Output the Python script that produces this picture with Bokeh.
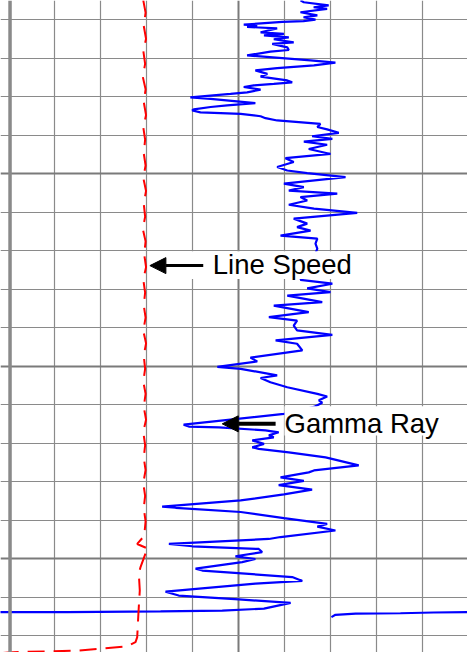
from bokeh.plotting import figure
from bokeh.models import Range1d, Grid, FixedTicker, Span, BoxAnnotation, Arrow, NormalHead, Label
from bokeh.embed import file_html
from bokeh.resources import INLINE

# ---- Gamma Ray (API) vs depth (ft) ----
gr_api = [95.2, 96.3, 104.4, 99.5, 103.9, 95.2, 100.7, 96.2, 100.1, 96.2,
          89.3, 76.7, 81.1, 77.8, 87.6, 82.2, 89.8, 83.3, 91.4, 86.5,
          93.0, 86.0, 90.9, 91.4, 85.4, 77.8, 98.5, 106.6, 99.6, 87.6,
          80.5, 84.4, 82.2, 90.9, 92.5, 86.5, 80.0, 76.7, 82.2, 77.8,
          72.4, 59.3, 65.9, 80.5, 71.3, 65.9, 60.4, 59.9, 62.6, 75.7,
          82.2, 83.8, 87.6, 101.7, 100.7, 103.9, 107.7, 99.0, 105.6, 96.3,
          103.9, 97.9, 105.0, 90.3, 93.0, 87.6, 90.9, 97.4, 109.9, 89.8,
          96.3, 91.4, 107.2, 95.2, 97.4, 91.4, 99.6, 113.7, 93.0, 97.4,
          94.1, 98.5, 88.7, 100.7, 100.1, 100.7, 98.5, 95.2, 105.6, 97.4,
          105.0, 90.9, 102.3, 86.5, 97.9, 84.9, 94.1, 93.0, 94.1, 105.6,
          87.1, 94.1, 95.8, 78.9, 81.1, 68.1, 75.7, 87.6, 82.2, 85.4,
          90.9, 100.7, 103.9, 101.2, 102.3, 99.6, 95.2, 89.8, 57.1, 58.8,
          68.6, 83.8, 88.1, 84.9, 86.5, 79.5, 83.3, 79.5, 81.6, 91.4,
          103.4, 114.2, 99.6, 97.9, 88.7, 96.3, 88.1, 99.0, 89.8, 75.7,
          50.1, 54.5, 75.7, 89.8, 103.9, 100.7, 106.6, 88.7, 84.9, 52.3,
          59.9, 81.6, 82.7, 74.0, 80.5, 76.2, 61.0, 63.2, 92.5, 95.8,
          80.5, 51.2, 55.5, 75.1, 92.0, 83.3, 69.7, 49.6, 19.2, -5.0]
gr_depth = [1004.9, 1005.4, 1006.2, 1006.7, 1007.1, 1008.0, 1008.8, 1009.3, 1009.9, 1010.3,
            1010.5, 1011.2, 1011.4, 1011.8, 1012.2, 1013.2, 1013.6, 1014.0, 1014.5, 1015.0,
            1015.8, 1016.2, 1017.1, 1017.8, 1018.2, 1019.2, 1020.5, 1021.1, 1021.8, 1022.5,
            1023.1, 1024.0, 1024.7, 1025.7, 1026.2, 1026.6, 1027.0, 1027.4, 1028.1, 1028.8,
            1029.2, 1030.1, 1030.5, 1031.6, 1032.2, 1032.6, 1033.2, 1033.5, 1034.0, 1034.4,
            1035.0, 1035.5, 1036.1, 1037.0, 1037.8, 1038.4, 1039.3, 1040.2, 1040.9, 1041.6,
            1042.4, 1043.5, 1044.8, 1045.9, 1046.9, 1048.2, 1049.1, 1049.8, 1050.8, 1052.5,
            1053.4, 1054.3, 1055.1, 1056.0, 1056.9, 1058.0, 1059.0, 1060.1, 1061.6, 1062.9,
            1063.8, 1064.7, 1066.0, 1066.8, 1068.1, 1069.4, 1073.8, 1077.5, 1078.5, 1079.7,
            1080.7, 1081.6, 1083.3, 1084.2, 1085.9, 1087.2, 1088.1, 1089.4, 1090.6, 1091.8,
            1093.2, 1094.1, 1095.8, 1097.7, 1098.7, 1100.1, 1100.6, 1102.3, 1103.0, 1104.1,
            1105.4, 1107.1, 1107.8, 1108.8, 1109.4, 1110.5, 1111.4, 1112.3, 1115.1, 1115.6,
            1115.8, 1116.6, 1117.1, 1117.9, 1118.4, 1119.2, 1120.1, 1121.0, 1121.4, 1122.3,
            1123.6, 1125.7, 1127.0, 1127.5, 1128.8, 1129.7, 1130.8, 1132.0, 1133.2, 1134.8,
            1136.4, 1136.7, 1137.8, 1139.4, 1140.9, 1141.6, 1142.6, 1144.3, 1144.8, 1146.1,
            1146.7, 1147.4, 1148.2, 1149.3, 1150.0, 1150.8, 1152.5, 1153.0, 1154.7, 1155.7,
            1156.4, 1158.5, 1159.5, 1160.5, 1161.4, 1162.9, 1163.4, 1163.6, 1163.8, 1163.8]

# wrapped (backup) gamma ray segment
gr_wrap_api = [105.3, 106.6, 113.2, 127.8, 138.6, 152.3]
gr_wrap_depth = [1165.1, 1164.5, 1164.2, 1164.1, 1163.9, 1163.8]

# ---- Line speed (ft/min) vs depth (ft) ----
ls_speed = [29.3, 29.8, 29.4, 29.9, 29.3, 29.7, 29.2, 29.8, 29.4, 29.9,
            29.3, 29.7, 29.4, 29.8, 29.3, 29.9, 29.4, 29.7, 29.2, 29.8,
            29.5, 29.9, 29.3, 29.7, 29.4, 29.8, 29.3, 29.9, 29.4, 29.7,
            29.3, 29.8, 29.4, 29.9, 29.3, 29.7, 29.4, 29.8, 29.3, 29.7,
            29.4, 29.8, 29.5, 27.98, 30.5, 29.78, 28.7, 28.33, 28.54, 28.37,
            28.2, 27.98, 27.61, 25.8, 20.0, 14.93, 9.13, 3.7, 0.0, -2.0]
ls_depth = [1004.9, 1008.1, 1011.5, 1014.9, 1018.0, 1021.4, 1024.8, 1028.0, 1031.3, 1034.7,
            1037.9, 1041.1, 1044.6, 1047.8, 1051.0, 1054.4, 1057.7, 1061.1, 1064.3, 1067.5,
            1070.9, 1074.2, 1077.4, 1080.8, 1084.1, 1087.3, 1090.7, 1094.0, 1097.2, 1100.6,
            1103.9, 1107.1, 1110.5, 1113.8, 1117.0, 1120.4, 1123.7, 1126.9, 1130.3, 1133.6,
            1136.8, 1140.2, 1144.0, 1146.1, 1147.4, 1148.6, 1152.1, 1153.8, 1158.2, 1161.5,
            1165.1, 1170.3, 1171.6, 1172.7, 1173.3, 1173.8, 1174.0, 1174.1, 1174.3, 1174.5]

# grid / track scale
gr_minor_ticks = [15, 30, 45, 60, 90, 105, 120, 135]
gr_major_ticks = [75]
depth_minor_ticks = [1010, 1020, 1030, 1040, 1060, 1070, 1080, 1090, 1110, 1120, 1130, 1140, 1160, 1170]
depth_major_ticks = [1050, 1100, 1150]

label_texts = ["Line Speed", "Gamma Ray"]

p = figure(width=467, height=652, output_backend="svg", toolbar_location=None,
           x_axis_location=None, y_axis_location=None,
           x_range=Range1d(-2.61, 149.67), y_range=Range1d(1174.29, 1004.94),
           min_border=0, outline_line_color=None,
           background_fill_color="white", border_fill_color="white")
p.extra_x_ranges = {"speed": Range1d(-1.74, 99.78)}

# remove default grids
p.center = [r for r in p.center if not isinstance(r, Grid)]

p.add_layout(Grid(dimension=0, ticker=FixedTicker(ticks=gr_minor_ticks),
                  grid_line_color="#8a8a8a", grid_line_width=1.2))
p.add_layout(Grid(dimension=0, ticker=FixedTicker(ticks=gr_major_ticks),
                  grid_line_color="#7a7a7a", grid_line_width=2))
p.add_layout(Grid(dimension=1, ticker=FixedTicker(ticks=depth_minor_ticks),
                  grid_line_color="#8a8a8a", grid_line_width=1.2))
p.add_layout(Grid(dimension=1, ticker=FixedTicker(ticks=depth_major_ticks),
                  grid_line_color="#7a7a7a", grid_line_width=2))

# left track border
p.add_layout(Span(location=0.5, dimension="height", line_color="#8a8a8a", line_width=3.5))

p.line(gr_api, gr_depth, line_color="#0000ff", line_width=2.2)
p.line(gr_wrap_api, gr_wrap_depth, line_color="#0000ff", line_width=2.2)
p.line(ls_speed, ls_depth, x_range_name="speed", line_color="#ff0000",
       line_width=2, line_dash="17 9")

# white label boxes
p.add_layout(BoxAnnotation(left=45.7, right=113.8, top=1070.1, bottom=1077.3,
                           fill_color="white", fill_alpha=1.0, line_color=None))
p.add_layout(BoxAnnotation(left=90.0, right=141.8, top=1110.3, bottom=1117.9,
                           fill_color="white", fill_alpha=1.0, line_color=None))

# arrows
p.add_layout(Arrow(end=NormalHead(size=16, fill_color="black", line_color="black"),
                   x_start=63.5, y_start=1073.8, x_end=46.1, y_end=1073.8,
                   line_width=3, line_color="black"))
p.add_layout(Arrow(end=NormalHead(size=16, fill_color="black", line_color="black"),
                   x_start=87.1, y_start=1114.9, x_end=69.7, y_end=1114.9,
                   line_width=4, line_color="black"))

p.add_layout(Label(x=66.6, y=1073.6, text=label_texts[0], text_font="Liberation Sans",
                   text_font_size="27.5px", text_baseline="alphabetic", text_color="black"))
p.add_layout(Label(x=90.0, y=1114.7, text=label_texts[1], text_font="Liberation Sans",
                   text_font_size="27.5px", text_baseline="alphabetic", text_color="black"))

open("out.html", "w").write(file_html(p, INLINE))
